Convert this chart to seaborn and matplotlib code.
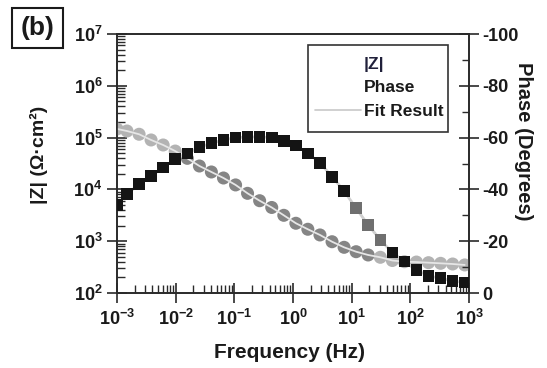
import numpy as np
import pandas as pd
import matplotlib
matplotlib.use("Agg")
import matplotlib.pyplot as plt
import matplotlib.ticker as mticker
from matplotlib.lines import Line2D
from matplotlib.patches import Rectangle
import seaborn as sns

# ---------------- data ----------------
freq_hz = [0.001, 0.00148, 0.00238, 0.00381, 0.00612, 0.00982, 0.0158, 0.0254,
           0.0406, 0.0653, 0.105, 0.168, 0.270, 0.434, 0.697, 1.12, 1.79, 2.88,
           4.63, 7.43, 11.9, 19.1, 30.8, 49.4, 79.3, 127, 204, 328, 526, 845]
zmod = [1.47e5, 1.34e5, 1.16e5, 9.0e4, 7.2e4, 5.5e4, 3.98e4, 2.83e4, 2.17e4,
        1.66e4, 1.22e4, 8.4e3, 6.05e3, 4.48e3, 3.16e3, 2.22e3, 1.70e3, 1.32e3,
        977, 762, 627, 542, 489, 424, 402, 396, 385, 374, 363, 348]
phase = [-34.0, -38.2, -42.0, -45.2, -48.4, -51.7, -53.9, -56.3, -57.8, -59.1,
         -60.0, -60.2, -60.3, -60.0, -58.6, -56.9, -53.9, -50.3, -44.9, -39.4,
         -32.7, -26.3, -20.5, -15.6, -12.1, -8.9, -6.6, -5.7, -4.6, -4.1]
zmod_tone = ["light"] * 6 + ["mid"] * 16 + ["light"] * 8
phase_tone = ["dark"] * 20 + ["grey"] * 3 + ["dark"] * 7
x_ticks = [1e-3, 1e-2, 1e-1, 1e0, 1e1, 1e2, 1e3]
y_ticks = [1e2, 1e3, 1e4, 1e5, 1e6, 1e7]
phase_ticks = [0, -20, -40, -60, -80, -100]
legend_labels = ["|Z|", "Phase", "Fit Result"]

df = pd.DataFrame({"freq": freq_hz, "zmod": zmod, "phase": phase,
                   "ztone": zmod_tone, "ptone": phase_tone})

# ---------------- style ----------------
sns.set_style("ticks")
plt.rcParams["font.family"] = ["Liberation Sans", "DejaVu Sans"]
plt.rcParams["font.weight"] = "bold"
plt.rcParams["mathtext.fontset"] = "custom"
plt.rcParams["mathtext.bf"] = "Liberation Sans:bold"
plt.rcParams["mathtext.rm"] = "Liberation Sans:bold"
plt.rcParams["axes.unicode_minus"] = False

TXT = "#1a1a1a"
SPINE = "#2a2a2a"

fig = plt.figure(figsize=(5.47, 3.68), dpi=100)
ax = fig.add_axes([0.2139, 0.2038, 0.6435, 0.7038])
ax2 = ax.twinx()

# |Z| circles with fit line on top
sns.scatterplot(data=df, x="freq", y="zmod", hue="ztone",
                palette={"light": "#b3b3b3", "mid": "#858585"},
                marker="o", s=88, edgecolor="none", legend=False, ax=ax, zorder=3)
sns.lineplot(data=df, x="freq", y="zmod", sort=False, color="#e6e6e6",
             linewidth=1.3, legend=False, ax=ax, zorder=4)

# phase squares with fit line below
sns.lineplot(data=df, x="freq", y="phase", sort=False, color="#cfcfcf",
             linewidth=2.0, legend=False, ax=ax2, zorder=2)
sns.scatterplot(data=df, x="freq", y="phase", hue="ptone",
                palette={"dark": "#141414", "grey": "#6f6f6f"},
                marker="s", s=70, edgecolor="none", linewidth=0,
                legend=False, ax=ax2, zorder=3)

ax.set_xscale("log")
ax.set_yscale("log")
ax.set_xlim(1e-3, 1e3)
ax.set_ylim(1e2, 1e7)
ax2.set_ylim(0, -100)


def sci(v, pos):
    e = int(round(np.log10(v)))
    return r"$\mathbf{10^{%d}}$" % e


ax.xaxis.set_major_locator(mticker.FixedLocator(x_ticks))
ax.yaxis.set_major_locator(mticker.FixedLocator(y_ticks))
ax.xaxis.set_major_formatter(mticker.FuncFormatter(sci))
ax.yaxis.set_major_formatter(mticker.FuncFormatter(sci))
ax.xaxis.set_minor_locator(mticker.LogLocator(base=10, subs=np.arange(2, 10), numticks=20))
ax.yaxis.set_minor_locator(mticker.LogLocator(base=10, subs=np.arange(2, 10), numticks=20))
ax.xaxis.set_minor_formatter(mticker.NullFormatter())
ax.yaxis.set_minor_formatter(mticker.NullFormatter())

ax2.yaxis.set_major_locator(mticker.FixedLocator(phase_ticks))
ax2.yaxis.set_minor_locator(mticker.MultipleLocator(10))
ax2.yaxis.set_major_formatter(mticker.FuncFormatter(lambda v, p: "%d" % v))

for a in (ax, ax2):
    for s in a.spines.values():
        s.set_linewidth(1.2)
        s.set_color(SPINE)
    a.set_xlabel("")
    a.set_ylabel("")

ax.tick_params(axis="both", which="major", direction="inout", length=15, width=1.2,
               color=SPINE, labelsize=13, labelcolor=TXT, top=False, right=False)
ax.tick_params(axis="x", which="major", pad=4)
ax.tick_params(axis="y", which="major", pad=3)
ax.tick_params(axis="both", which="minor", direction="in", length=6, width=1.0,
               color=SPINE, top=False, right=False)
ax2.tick_params(axis="y", which="major", direction="inout", length=15, width=1.2,
                color=SPINE, labelsize=13, labelcolor=TXT, pad=2, left=False)
ax2.tick_params(axis="y", which="minor", direction="in", length=5, width=1.0,
                color=SPINE, left=False)

# axis titles
fig.text(290 / 547, 1 - 352 / 368, "Frequency (Hz)", ha="center", va="center",
         fontsize=15, fontweight="bold", color=TXT)
fig.text(39 / 547, 1 - 155 / 368, "|Z| (Ω·cm²)", ha="center", va="center",
         rotation=90, fontsize=14, fontweight="bold", color=TXT)
fig.text(524 / 547, 1 - 141 / 368, "Phase (Degrees)", ha="center", va="center",
         rotation=270, fontsize=14.5, fontweight="bold", color=TXT)

# legend
handles = [Line2D([], [], linestyle="none"),
           Line2D([], [], linestyle="none"),
           Line2D([], [], color="#c8c8c8", linewidth=1.2)]
leg = ax2.legend(handles, legend_labels, loc="upper left",
                 bbox_to_anchor=((312 - 117) / 352, (293 - 53) / 259),
                 frameon=False, fontsize=12.5, handlelength=2.6,
                 handletextpad=0.2, labelspacing=0.48, borderpad=0.2,
                 borderaxespad=0)
for t in leg.get_texts():
    t.set_fontweight("bold")
    t.set_color(TXT)
leg.get_texts()[0].set_color("#20203a")
ax2.add_patch(Rectangle(((308 - 117) / 352, (293 - 132) / 259),
                        (448 - 308) / 352, (132 - 45) / 259,
                        transform=ax2.transAxes, fill=False, edgecolor="#333333",
                        linewidth=1.2, zorder=5, clip_on=False))

# panel label
fig.patches.append(Rectangle((12 / 547, 1 - 48 / 368), 51 / 547, 40 / 368,
                             transform=fig.transFigure, fill=False,
                             edgecolor="#1a1a1a", linewidth=1.5))
fig.text(37.5 / 547, 1 - 28 / 368, "(b)", ha="center", va="center",
         fontsize=19, fontweight="bold", color=TXT)

fig.savefig("out.png", dpi=100)
